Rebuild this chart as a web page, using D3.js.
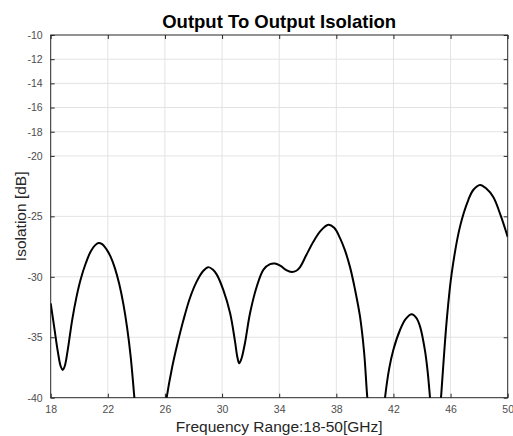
<!DOCTYPE html>
<html>
<head>
<meta charset="utf-8">
<script src="https://cdn.jsdelivr.net/npm/d3@7"></script>
<style>
  body { margin: 0; background: #fff; }
  svg { display: block; font-family: "Liberation Sans", Arial, sans-serif; }
</style>
</head>
<body>
<div id="chart"></div>
<script>
// Tick labels as shown on the original axes
const xTicks = [18, 22, 26, 30, 34, 38, 42, 46, 50];
const yTicks = [-10, -12, -14, -16, -18, -20, -25, -30, -35, -40];

// Isolation curve; null splits the pieces, values past -40 get clipped
const freq = [18.0, 18.25, 18.5, 18.7, 18.84, 18.98, 19.2, 19.5, 19.8, 20.1, 20.45, 20.8, 21.1, 21.35, 21.6, 21.92, 22.2, 22.5, 22.8, 23.08, 23.35, 23.6, 23.86, 24.05,
              null,
              25.9, 26.12, 26.5, 26.82, 27.29, 27.75, 28.22, 28.69, 29.04, 29.35, 29.62, 30.09, 30.56, 30.9, 31.08, 31.2, 31.35, 31.6, 31.96, 32.43, 32.9,
              33.36, 33.71, 34.1, 34.5, 34.88, 35.2, 35.46, 35.9, 36.39, 36.9, 37.44, 37.85, 38.26, 38.6, 38.96, 39.3, 39.66, 39.95, 40.17, 40.35,
              null,
              41.25, 41.41, 41.7, 41.99, 42.46, 42.85, 43.28, 43.6, 43.86, 44.2, 44.4, 44.56, 44.7,
              null,
              45.2, 45.33, 45.73, 46.08, 46.66, 47.24, 47.6, 48.06, 48.5, 48.99, 49.5, 50.0];
const isolation = [-32.2, -34.2, -36.2, -37.4, -37.7, -37.4, -36.0, -33.6, -31.7, -30.2, -28.9, -27.9, -27.4, -27.2, -27.3, -27.75, -28.35, -29.3, -30.6, -32.2, -34.2, -36.6, -40.0, -42.5,
                   null,
                   -42.0, -40.0, -37.5, -35.8, -33.6, -31.75, -30.4, -29.5, -29.2, -29.4, -29.8, -31.1, -33.0, -35.3, -36.7, -37.15, -36.8, -35.5, -33.0, -30.8, -29.4,
                   -28.95, -28.9, -29.1, -29.45, -29.6, -29.5, -29.2, -28.2, -27.1, -26.2, -25.7, -25.95, -26.8, -27.8, -29.2, -31.0, -33.3, -36.3, -40.0, -42.0,
                   null,
                   -42.0, -40.0, -37.6, -36.05, -34.4, -33.5, -33.1, -33.4, -34.1, -36.05, -37.9, -40.0, -42.0,
                   null,
                   -42.0, -40.0, -33.6, -29.7, -25.85, -23.65, -22.8, -22.4, -22.7, -23.4, -24.9, -26.7];

const width = 513, height = 436;
const margin = { top: 35, right: 5.3, bottom: 38.3, left: 50.7 };
const innerW = width - margin.left - margin.right;
const innerH = height - margin.top - margin.bottom;

const svg = d3.select("#chart")
  .append("svg")
  .attr("width", width)
  .attr("height", height);

const x = d3.scaleLinear().domain([18, 50]).range([margin.left, margin.left + innerW]);
const y = d3.scaleLinear().domain([-40, -10]).range([margin.top + innerH, margin.top]);

// grid
svg.append("g")
  .selectAll("line")
  .data(xTicks.slice(1, -1))
  .join("line")
  .attr("x1", d => x(d)).attr("x2", d => x(d))
  .attr("y1", margin.top).attr("y2", margin.top + innerH)
  .attr("stroke", "#e3e3e3").attr("stroke-width", 1);

svg.append("g")
  .selectAll("line")
  .data(yTicks.slice(1, -1))
  .join("line")
  .attr("x1", margin.left).attr("x2", margin.left + innerW)
  .attr("y1", d => y(d)).attr("y2", d => y(d))
  .attr("stroke", "#e3e3e3").attr("stroke-width", 1);

// axes with inward ticks, MATLAB style
const axisColor = "#262626";
const xAxis = d3.axisBottom(x).tickValues(xTicks).tickSize(-4).tickPadding(8).tickFormat(d3.format("d"));
const yAxis = d3.axisLeft(y).tickValues(yTicks).tickSize(-4).tickPadding(8).tickFormat(d => d);

const gx = svg.append("g")
  .attr("transform", `translate(0, ${margin.top + innerH})`)
  .call(xAxis);
const gy = svg.append("g")
  .attr("transform", `translate(${margin.left}, 0)`)
  .call(yAxis);

svg.append("g")
  .attr("transform", `translate(0, ${margin.top})`)
  .call(d3.axisTop(x).tickValues(xTicks).tickSize(-4).tickFormat(""));
svg.append("g")
  .attr("transform", `translate(${margin.left + innerW}, 0)`)
  .call(d3.axisRight(y).tickValues(yTicks).tickSize(-4).tickFormat(""));

svg.selectAll(".domain").remove();
svg.selectAll(".tick line").attr("stroke", axisColor);
svg.selectAll(".tick text")
  .attr("fill", "#4d4d4d")
  .style("font-size", "10.5px")
  .style("font-family", "Liberation Sans, Arial, sans-serif");
gx.selectAll(".tick text").attr("dy", "0.71em");

svg.append("rect")
  .attr("x", margin.left).attr("y", margin.top)
  .attr("width", innerW).attr("height", innerH)
  .attr("fill", "none")
  .attr("stroke", axisColor)
  .attr("stroke-width", 1);

// curve
svg.append("clipPath").attr("id", "plot-clip")
  .append("rect")
  .attr("x", margin.left).attr("y", margin.top)
  .attr("width", innerW).attr("height", innerH);

const data = freq.map((f, i) => ({ f, v: isolation[i] }));

const line = d3.line()
  .defined(d => d.v !== null)
  .x(d => x(d.f))
  .y(d => y(d.v))
  .curve(d3.curveCatmullRom.alpha(0.5));

svg.append("path")
  .datum(data)
  .attr("clip-path", "url(#plot-clip)")
  .attr("d", line)
  .attr("fill", "none")
  .attr("stroke", "#000")
  .attr("stroke-width", 2)
  .attr("stroke-linejoin", "round");

// labels
svg.append("text")
  .attr("x", margin.left + innerW / 2)
  .attr("y", 28)
  .attr("text-anchor", "middle")
  .style("font-size", "18.5px")
  .style("font-weight", "bold")
  .attr("fill", "#000")
  .text("Output To Output Isolation");

svg.append("text")
  .attr("x", margin.left + innerW / 2)
  .attr("y", 432)
  .attr("text-anchor", "middle")
  .style("font-size", "15.5px")
  .attr("fill", "#262626")
  .text("Frequency Range:18-50[GHz]");

svg.append("text")
  .attr("transform", `translate(25.5, ${margin.top + innerH / 2}) rotate(-90)`)
  .attr("text-anchor", "middle")
  .style("font-size", "15.5px")
  .attr("fill", "#262626")
  .text("Isolation [dB]");
</script>
</body>
</html>
